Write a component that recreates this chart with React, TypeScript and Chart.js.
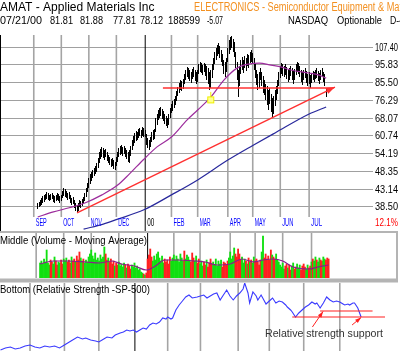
import React, { useEffect, useRef } from 'react';
import { Chart, registerables, BarController, BarElement } from 'chart.js';
Chart.register(...registerables);

// crisp 1px bar element for daily high-low bars
class CrispBarElement extends (BarElement as any) {
  static id = 'crispBar';
  static defaults = (BarElement as any).defaults;
  static defaultRoutes = (BarElement as any).defaultRoutes;
  draw(ctx: CanvasRenderingContext2D) {
    const { x, y, base } = (this as any).getProps(['x', 'y', 'base']);
    const top = Math.round(Math.min(y, base));
    const bot = Math.round(Math.max(y, base));
    ctx.save();
    ctx.fillStyle = (this as any).options.backgroundColor;
    ctx.fillRect(Math.round(x - 0.5), top, 1, Math.max(1, bot - top));
    ctx.restore();
  }
}
class RangeBarController extends (BarController as any) {
  static id = 'rangeBar';
  static defaults = { ...(BarController as any).defaults, dataElementType: 'crispBar' };
  static overrides = (BarController as any).overrides;
}
Chart.register(CrispBarElement as any, RangeBarController as any);

// ---------- DATA ----------
// daily bars, index 0 = 1999-09-07 ... index 220 = 2000-07-21
const highs = [
  39.5, 39.8, 40.3, 40.8, 41.3, 41.6, 41.8, 42.4, 42.1, 41.6,
  41.8, 42.1, 41.6, 41.3, 41.6, 42.1, 41.8, 41.3, 41.6, 42.6,
  43.4, 43.2, 42.6, 42.1, 42.4, 41.6, 40.8, 41.0, 40.3, 39.5,
  39.0, 39.5, 40.3, 40.0, 40.5, 41.0, 42.1, 43.4, 44.9, 46.4,
  47.6, 48.2, 48.8, 49.4, 50.0, 51.0, 52.7, 54.8, 55.8, 56.6,
  56.2, 55.5, 55.8, 54.8, 53.7, 53.0, 52.3, 52.7, 52.0, 51.3,
  53.0, 54.8, 56.2, 56.9, 57.3, 56.6, 56.9, 56.2, 55.5, 54.8,
  55.5, 56.9, 59.2, 60.7, 61.9, 62.7, 62.3, 63.5, 63.9, 63.1,
  64.3, 63.9, 63.1, 61.5, 59.9, 59.2, 60.3, 62.3, 63.1, 63.5,
  68.1, 69.9, 71.7, 72.6, 73.1, 72.2, 71.3, 69.9, 69.0, 68.1,
  69.9, 72.6, 74.5, 76.0, 76.9, 78.4, 81.0, 83.1, 85.3, 86.9,
  86.4, 87.5, 90.3, 92.7, 94.4, 93.8, 92.7, 91.5, 93.2, 94.4,
  92.7, 91.5, 92.7, 96.3, 97.5, 96.9, 95.6, 96.9, 96.3, 95.0,
  93.8, 91.5, 92.7, 96.3, 100.1, 104.0, 106.7, 108.8, 110.2, 108.1,
  105.4, 102.7, 98.8, 97.5, 100.1, 106.7, 112.3, 114.5, 115.2, 113.0,
  110.9, 104.0, 97.5, 92.7, 95.0, 98.8, 100.7, 98.8, 101.4, 100.1,
  102.7, 102.0, 104.0, 105.4, 103.4, 100.1, 96.3, 92.7, 90.3, 91.5,
  93.8, 91.5, 89.2, 86.9, 84.7, 83.6, 81.5, 82.6, 79.4, 77.4,
  78.4, 81.5, 83.6, 86.9, 91.5, 95.0, 96.9, 96.3, 95.0, 96.3,
  94.4, 92.7, 93.8, 95.0, 93.8, 92.1, 93.2, 96.3, 97.5, 96.9,
  95.0, 92.7, 91.5, 92.7, 93.8, 92.1, 90.3, 91.5, 89.8, 90.9,
  92.1, 91.5, 92.7, 93.8, 92.1, 90.9, 92.7, 93.8, 91.5, 90.3,
  81.88,
];
const lows = [
  38.0, 38.5, 38.8, 39.0, 39.5, 39.8, 40.3, 40.5, 40.3, 40.0,
  40.3, 40.5, 39.8, 39.5, 40.0, 40.3, 40.0, 39.5, 40.0, 40.8,
  41.3, 41.0, 40.8, 40.3, 40.5, 39.5, 39.0, 39.3, 38.3, 37.5,
  37.05, 37.5, 38.5, 38.3, 38.8, 39.3, 40.0, 41.0, 42.4, 43.4,
  44.6, 45.5, 46.4, 47.0, 47.6, 48.2, 49.4, 51.0, 52.3, 53.0,
  52.7, 52.0, 53.0, 51.7, 51.0, 50.4, 49.7, 50.0, 49.1, 48.8,
  50.0, 51.3, 53.0, 53.7, 54.1, 53.4, 54.1, 53.0, 52.3, 51.3,
  51.0, 53.4, 55.5, 56.9, 58.0, 58.8, 59.2, 59.9, 60.7, 59.9,
  60.7, 60.3, 60.3, 57.3, 56.2, 55.5, 56.6, 58.4, 59.2, 59.6,
  62.3, 65.1, 67.3, 68.1, 69.0, 67.7, 66.8, 65.5, 64.7, 63.9,
  65.1, 68.1, 70.4, 71.3, 72.6, 74.0, 76.0, 78.4, 79.9, 81.5,
  81.0, 82.0, 84.7, 86.9, 88.6, 87.5, 86.4, 85.3, 87.5, 88.6,
  86.4, 84.7, 85.8, 90.3, 91.5, 90.9, 89.8, 91.5, 89.2, 86.9,
  84.7, 81.5, 82.6, 88.0, 92.7, 96.3, 98.8, 101.4, 102.7, 100.1,
  97.5, 95.0, 90.3, 88.6, 91.5, 97.5, 102.7, 105.4, 106.7, 104.0,
  100.7, 93.8, 86.9, 77.9, 83.6, 90.3, 92.7, 90.9, 93.8, 92.1,
  95.0, 93.8, 96.9, 97.5, 96.3, 92.7, 88.0, 84.2, 81.5, 82.6,
  86.9, 83.6, 79.9, 78.9, 76.5, 74.0, 71.7, 74.5, 70.8, 68.6,
  69.9, 73.6, 76.5, 79.4, 83.6, 88.0, 90.3, 89.2, 88.6, 89.8,
  87.5, 85.8, 86.9, 89.2, 86.9, 84.7, 86.9, 89.8, 91.5, 90.3,
  88.6, 85.8, 84.2, 86.9, 88.0, 85.3, 83.6, 84.7, 82.6, 85.3,
  86.9, 85.8, 87.5, 88.0, 86.4, 84.7, 86.9, 88.6, 85.8, 83.6,
  77.81,
];
// volume (millions of shares)
const volumes = [
  15, 17, 14, 19, 16, 28, 15, 13, 18, 16,
  14, 21, 17, 13, 16, 15, 18, 14, 19, 17,
  20, 16, 18, 15, 21, 17, 19, 16, 22, 18,
  26, 20, 17, 19, 15, 18, 16, 21, 24, 28,
  22, 19, 25, 18, 20, 17, 23, 19, 21, 31,
  24, 18, 20, 16, 19, 14, 17, 12, 15, 13,
  16, 12, 14, 11, 15, 13, 10, 14, 12, 9,
  13, 11, 15, 10, 12, 8, 9, 6, 5, 4,
  3, 5,
  19, 23, 29, 21, 17, 22, 18, 24,
  26, 20, 17, 22, 15, 19, 16, 18, 14, 21,
  17, 20, 23, 18, 22, 19, 16, 24, 20, 17,
  27, 19, 23, 21, 18, 16, 25, 20, 17, 22, 15, 19,
  14, 17, 12, 16, 13, 18, 11, 15, 19, 14,
  16, 13, 19, 12, 17, 14, 18, 11, 16, 15,
  13, 17, 20, 26, 19, 22, 30, 24, 21, 29,
  24, 18, 21, 15, 19, 17, 14, 20, 16, 18,
  15, 21, 17, 19, 16, 13, 18, 26, 42, 20,
  24, 19, 22, 18, 28, 23, 21, 19, 24, 18,
  16, 13, 11, 15, 9, 12, 14, 10, 13, 8,
  12, 15, 9, 11, 14, 10, 13, 8, 12, 14,
  11, 9, 13, 10, 12, 16, 19, 17, 21, 18,
  16, 20, 18, 17, 21, 19, 18, 20, 19,
];
// moving averages (read at selected days)
const maFastDay = [0, 12, 24, 36, 49, 61, 70, 81, 91, 102, 114, 122, 132, 142, 152, 161, 169, 178, 186, 193, 207, 214, 220];
const maFastVal = [36.1, 37.3, 38.3, 39.5, 41.6, 44.3, 47.6, 52.3, 56.6, 60.3, 67.3, 71.7, 77.9, 86.9, 93.8, 96.3, 96.9, 95.6, 94.4, 92.7, 90.9, 89.8, 88.0];
const maSlowDay = [35, 50, 61, 81, 102, 122, 145, 164, 181, 207, 220];
const maSlowVal = [33.4, 34.5, 35.6, 37.8, 41.6, 45.8, 52.0, 57.1, 61.9, 69.9, 73.1];
const volMaDay = [0, 10, 20, 35, 45, 55, 62, 72, 81, 88, 95, 105, 118, 126, 135, 145, 154, 163, 170, 178, 185, 193, 205, 212, 220];
const volMaVal = [14, 17, 17, 16, 15, 17, 14, 12, 8, 12, 18, 18, 17, 16, 13, 14, 19, 16, 18, 19, 17, 11, 9, 11, 13];
// relative strength vs S&P 500
const rsDay = [0, 3, 6, 9, 12, 15, 18, 21, 24, 27, 30, 33, 36, 39, 41, 44, 47, 50, 52, 55, 58, 60, 63, 65, 68, 70, 73, 75, 77, 79, 81, 83, 85, 87, 89, 91, 93, 95, 97, 99, 101, 102, 104, 105, 107, 109, 111, 113, 115, 117, 120, 122, 124, 126, 128, 130, 132, 134, 136, 138, 140, 142, 144, 146, 148, 149, 151, 152, 154, 156, 157, 159, 160, 162, 164, 166, 168, 170, 172, 174, 175, 177, 178, 180, 182, 184, 186, 188, 190, 192, 193, 195, 197, 199, 201, 203, 205, 207, 209, 210, 212, 213, 215, 216, 218, 220];
const rsVal = [1, 3, 4, 2, 3, 5, 6, 4, 3, 5, 4, 5, 3, 6, 8, 11, 14, 12, 13, 11, 10, 9, 12, 14, 13, 16, 18, 19, 21, 20, 21, 19, 21, 23, 22, 26, 28, 27, 29, 33, 32, 34, 32, 33, 41, 46, 50, 54, 56, 53, 54, 55, 56, 53, 55, 57, 58, 51, 56, 61, 55, 51, 55, 58, 62, 68, 58, 48, 59, 55, 51, 56, 53, 47, 50, 53, 48, 50, 49, 46, 44, 41, 39, 34, 38, 41, 44, 46, 49, 47, 48, 43, 48, 54, 51, 49, 50, 49, 47, 46, 47, 46, 48, 48, 43, 34];
// axis ticks / labels
const priceTicks = [38.5, 43.14, 48.35, 54.19, 60.74, 68.07, 76.29, 85.5, 95.83, 107.4];
const monthDay = [-3, 18, 39, 60, 82, 102, 122, 145, 164, 185, 207];
const monthLabels = ['SEP', 'OCT', 'NOV', 'DEC', '00', 'FEB', 'MAR', 'APR', 'MAY', 'JUN', 'JUL'];
// header
const titleText = 'AMAT - Applied Materials Inc';
const groupText = 'ELECTRONICS - Semiconductor Equipment & Mat';
const quoteTokens = ['07/21/00', '81.81', '81.88', '77.81', '78.12', '188599', '-5.07', 'NASDAQ', 'Optionable', 'D-4'];
// annotations
const trendDay = [30, 226.7];
const trendVal = [37.05, 83.1];
const resistDay = [95.5, 225.5];
const resistVal = 82.6;
const markerDay = 132;
const markerVal = 76.5;
const rsSupportHiDay = [195, 227];
const rsSupportHiVal = 40;
const rsSupportLoDay = [178, 234.6];
const rsSupportLoVal = 34;
const rsArrowFrom = [[190.3, 24], [214.5, 26]];
const rsArrowTo = [[196.8, 39.5], [220, 33.5]];

// ---------- LAYOUT ----------
const PX = 1.639; // pixels per trading day
const X_MIN = -0.5 / PX;
const FONT = '"Liberation Sans", Arial, sans-serif';
const quoteX = [0, 50, 80, 113, 140, 168, 207, 288, 337, 390];
const quoteW = [42, 23, 23, 23, 23, 32, 16, 40, 45, 14];

function txt(ctx: CanvasRenderingContext2D, s: string, x: number, y: number, size: number, color: string, maxW?: number) {
  ctx.font = `${size}px ${FONT}`;
  ctx.fillStyle = color;
  ctx.textBaseline = 'middle';
  ctx.textAlign = 'left';
  if (maxW) ctx.fillText(s, x, y, maxW);
  else ctx.fillText(s, x, y);
}

function arrow(ctx: CanvasRenderingContext2D, x1: number, y1: number, x2: number, y2: number, color: string, head: number, width: number) {
  ctx.save();
  ctx.strokeStyle = color;
  ctx.fillStyle = color;
  ctx.lineWidth = width;
  ctx.beginPath();
  ctx.moveTo(x1, y1);
  ctx.lineTo(x2, y2);
  ctx.stroke();
  const a = Math.atan2(y2 - y1, x2 - x1);
  ctx.beginPath();
  ctx.moveTo(x2, y2);
  ctx.lineTo(x2 - head * Math.cos(a) + head * 0.35 * Math.sin(a), y2 - head * Math.sin(a) - head * 0.35 * Math.cos(a));
  ctx.lineTo(x2 - head * Math.cos(a) - head * 0.35 * Math.sin(a), y2 - head * Math.sin(a) + head * 0.35 * Math.cos(a));
  ctx.closePath();
  ctx.fill();
  ctx.restore();
}

function monthLines(chart: any, top: number, bottom: number, janBottom: number) {
  const { ctx } = chart;
  const x = chart.scales.x;
  ctx.save();
  monthDay.forEach((d, k) => {
    const px = x.getPixelForValue(d);
    const jan = monthLabels[k] === '00';
    ctx.strokeStyle = jan ? '#000' : '#a4a4a4';
    ctx.lineWidth = jan ? 1 : 1.6;
    ctx.beginPath();
    ctx.moveTo(px, top);
    ctx.lineTo(px, jan ? janBottom : bottom);
    ctx.stroke();
  });
  ctx.restore();
}

const mainPlugin = {
  id: 'mainDeco',
  beforeDatasetsDraw(chart: any) {
    const { ctx, chartArea } = chart;
    monthLines(chart, chartArea.top, 217, chartArea.bottom);
    ctx.save();
    ctx.strokeStyle = '#000';
    ctx.lineWidth = 1;
    ctx.beginPath();
    ctx.moveTo(0.5, chartArea.top);
    ctx.lineTo(0.5, chartArea.bottom);
    ctx.stroke();
    ctx.restore();
  },
  afterDatasetsDraw(chart: any) {
    const { ctx, chartArea } = chart;
    const x = chart.scales.x;
    const y = chart.scales.y;
    ctx.save();
    ctx.beginPath();
    ctx.rect(0, chartArea.top, 400, chartArea.bottom - chartArea.top);
    ctx.clip();
    ctx.strokeStyle = '#ff3030';
    ctx.lineWidth = 1.4;
    ctx.beginPath();
    ctx.moveTo(x.getPixelForValue(resistDay[0]), y.getPixelForValue(resistVal));
    ctx.lineTo(x.getPixelForValue(resistDay[1]), y.getPixelForValue(resistVal));
    ctx.stroke();
    arrow(ctx, x.getPixelForValue(trendDay[0]), y.getPixelForValue(trendVal[0]),
      x.getPixelForValue(trendDay[1]), y.getPixelForValue(trendVal[1]), '#ff3030', 9, 1.4);
    const mx = x.getPixelForValue(markerDay);
    const my = y.getPixelForValue(markerVal);
    ctx.strokeStyle = '#f0f000';
    ctx.fillStyle = '#ffff90';
    ctx.lineWidth = 1;
    ctx.beginPath();
    ctx.moveTo(mx, my - 8);
    ctx.lineTo(mx, my - 3);
    ctx.stroke();
    ctx.fillRect(mx - 3, my - 3, 6, 6);
    ctx.strokeRect(mx - 3, my - 3, 6, 6);
    ctx.restore();

    priceTicks.forEach((v) => txt(ctx, v.toFixed(2), 375, y.getPixelForValue(v) + 0.5, 11, '#000', 23));
    monthDay.forEach((d, k) => {
      const px = x.getPixelForValue(d) + 2;
      const jan = monthLabels[k] === '00';
      txt(ctx, monthLabels[k], px, 222.5, 11, jan ? '#000' : '#0000ff', jan ? 7 : 11);
    });
    txt(ctx, '12.1%', 375, 222.5, 11, '#ff0000', 23);
    // header rows
    txt(ctx, titleText, 0, 7.5, 12, '#000', 160);
    txt(ctx, groupText, 194, 7.5, 12, '#f39020', 208);
    quoteTokens.forEach((s, k) => txt(ctx, s, quoteX[k], 21, 11, '#000', quoteW[k]));
    ctx.fillStyle = '#b4b4b4';
    ctx.fillRect(0, 231, 398, 2);
  },
};

const volPlugin = {
  id: 'volDeco',
  beforeDatasetsDraw(chart: any) {
    const { chartArea } = chart;
    monthLines(chart, 0, chartArea.bottom, chartArea.bottom);
  },
  afterDatasetsDraw(chart: any) {
    const { ctx } = chart;
    txt(ctx, 'Middle (Volume - Moving Average)', 0, 8, 11, '#000', 147);
    ctx.fillStyle = '#b4b4b4';
    ctx.fillRect(0, 45.5, 398, 1.5);
    ctx.fillRect(396, 0, 2, 47);
  },
};

const rsPlugin = {
  id: 'rsDeco',
  beforeDatasetsDraw(chart: any) {
    const { chartArea } = chart;
    monthLines(chart, chartArea.top, chartArea.bottom, chartArea.bottom);
  },
  afterDatasetsDraw(chart: any) {
    const { ctx } = chart;
    const x = chart.scales.x;
    const y = chart.scales.y;
    ctx.save();
    ctx.strokeStyle = '#ff2020';
    ctx.lineWidth = 1.2;
    ctx.beginPath();
    ctx.moveTo(x.getPixelForValue(rsSupportHiDay[0]), y.getPixelForValue(rsSupportHiVal));
    ctx.lineTo(x.getPixelForValue(rsSupportHiDay[1]), y.getPixelForValue(rsSupportHiVal));
    ctx.moveTo(x.getPixelForValue(rsSupportLoDay[0]), y.getPixelForValue(rsSupportLoVal));
    ctx.lineTo(x.getPixelForValue(rsSupportLoDay[1]), y.getPixelForValue(rsSupportLoVal));
    ctx.stroke();
    ctx.restore();
    rsArrowFrom.forEach((f, k) => {
      const t = rsArrowTo[k];
      arrow(ctx, x.getPixelForValue(f[0]), y.getPixelForValue(f[1]), x.getPixelForValue(t[0]), y.getPixelForValue(t[1]), '#ff2020', 6, 1);
    });
    txt(ctx, 'Bottom (Relative Strength -SP-500)', 0, 10, 11, '#000', 150);
    txt(ctx, 'Relative strength support', 265, 54, 11, '#333', 118);
    ctx.fillStyle = '#b4b4b4';
    ctx.fillRect(0, 0, 398, 2.5);
  },
};

export default function App() {
  const mainRef = useRef<HTMLCanvasElement>(null);
  const volRef = useRef<HTMLCanvasElement>(null);
  const rsRef = useRef<HTMLCanvasElement>(null);

  useEffect(() => {
    document.body.style.margin = '0';
    const charts: Chart[] = [];
    const common = {
      animation: false as const,
      responsive: false,
      maintainAspectRatio: false,
      events: [] as any[],
      plugins: { legend: { display: false }, tooltip: { enabled: false } },
    };

    charts.push(new Chart(mainRef.current!, {
      type: 'bar',
      data: {
        datasets: [
          {
            type: 'line',
            data: maFastDay.map((d, i) => ({ x: d, y: maFastVal[i] })),
            borderColor: '#9c2c9c', borderWidth: 1.2, pointRadius: 0, cubicInterpolationMode: 'monotone', order: 1,
          } as any,
          {
            type: 'line',
            data: maSlowDay.map((d, i) => ({ x: d, y: maSlowVal[i] })),
            borderColor: '#28289c', borderWidth: 1.2, pointRadius: 0, cubicInterpolationMode: 'monotone', order: 1,
          } as any,
          {
            type: 'rangeBar',
            data: highs.map((h, i) => ({ x: i, y: [lows[i], h] })),
            backgroundColor: '#000', barThickness: 1, order: 2,
          } as any,
        ],
      },
      options: {
        ...common,
        layout: { padding: { top: 35, right: 27, bottom: 2, left: 0 } },
        scales: {
          x: { type: 'linear', min: X_MIN, max: X_MIN + 373 / PX, display: false },
          y: {
            type: 'logarithmic', position: 'right', min: 33.0, max: 116.0,
            afterBuildTicks: (s: any) => { s.ticks = priceTicks.map((v) => ({ value: v })); },
            ticks: { display: false },
            grid: { color: '#a0a0a0', lineWidth: 1, drawTicks: false },
            border: { display: false },
          },
        },
      } as any,
      plugins: [mainPlugin],
    }));

    const mids = highs.map((h, i) => (h + lows[i]) / 2);
    const volColors = mids.map((m, i) => (i === 0 || m >= mids[i - 1] ? '#10e010' : '#ff2020'));
    charts.push(new Chart(volRef.current!, {
      type: 'bar',
      data: {
        datasets: [
          {
            type: 'line',
            data: volMaDay.map((d, i) => ({ x: d, y: volMaVal[i] })),
            borderColor: '#8c1c8c', borderWidth: 1.2, pointRadius: 0, cubicInterpolationMode: 'monotone', order: 1,
          } as any,
          {
            type: 'bar',
            data: volumes.map((v, i) => ({ x: i, y: v })),
            backgroundColor: volColors, barThickness: 1.2, order: 2,
          } as any,
        ],
      },
      options: {
        ...common,
        layout: { padding: { top: 1, right: 3, bottom: 2, left: 0 } },
        scales: {
          x: { type: 'linear', min: X_MIN, max: X_MIN + 397 / PX, display: false },
          y: { min: 0, max: 44, display: false },
        },
      } as any,
      plugins: [volPlugin],
    }));

    charts.push(new Chart(rsRef.current!, {
      type: 'line',
      data: {
        datasets: [
          {
            data: rsDay.map((d, i) => ({ x: d, y: rsVal[i] })),
            borderColor: '#3a3aff', borderWidth: 1.1, pointRadius: 0, tension: 0,
          },
        ],
      },
      options: {
        ...common,
        layout: { padding: { top: 3, right: 3, bottom: 0, left: 0 } },
        scales: {
          x: { type: 'linear', min: X_MIN, max: X_MIN + 397 / PX, display: false },
          y: { min: 0, max: 68, display: false },
        },
      } as any,
      plugins: [rsPlugin],
    }));

    return () => charts.forEach((c) => c.destroy());
  }, []);

  return (
    <div style={{ position: 'absolute', left: 0, top: 0, width: 400, height: 351, background: '#fff', overflow: 'hidden' }}>
      <canvas ref={mainRef} width={400} height={233} style={{ position: 'absolute', left: 0, top: 0 }} />
      <canvas ref={volRef} width={400} height={47} style={{ position: 'absolute', left: 0, top: 233 }} />
      <canvas ref={rsRef} width={400} height={71} style={{ position: 'absolute', left: 0, top: 280 }} />
    </div>
  );
}
